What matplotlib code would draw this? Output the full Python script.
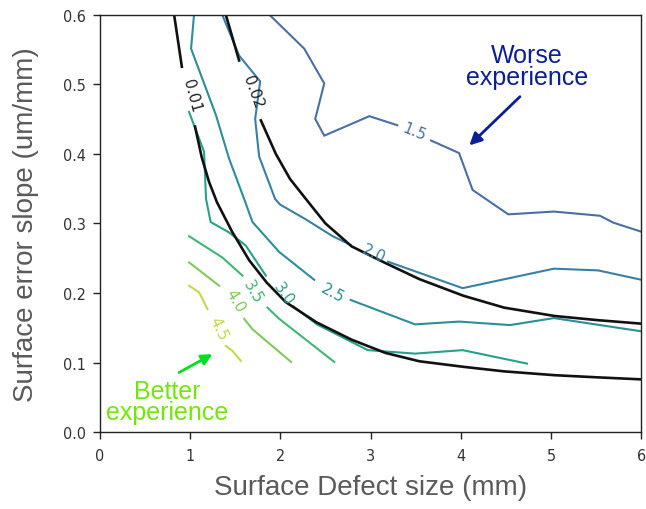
import numpy as np
import matplotlib
matplotlib.use("Agg")
import matplotlib.pyplot as plt

nan = np.nan

# ---- data ----
levels = ["1.5", "2.0", "2.5", "3.0", "3.5", "4.0", "4.5"]

x_15 = [1.877, 2.265, 2.487, 2.387, 2.487, 2.986, 3.296, nan, 3.67, 3.98, 4.13, 4.525, 5.03, 5.54, 5.69, 6.0]
y_15 = [0.600, 0.551, 0.501, 0.450, 0.426, 0.454, 0.441, nan, 0.419, 0.401, 0.348, 0.313, 0.317, 0.311, 0.301, 0.288]

x_20 = [1.356, 1.544, 1.777, 1.722, 1.766, 1.943, 1.999, 2.28, 2.575, 2.78, nan, 3.193, 4.019, 5.03, 5.52, 6.0]
y_20 = [0.600, 0.541, 0.504, 0.450, 0.396, 0.335, 0.327, 0.306, 0.282, 0.269, nan, 0.245, 0.207, 0.235, 0.2325, 0.219]

x_25 = [1.045, 1.012, 1.289, 1.433, 1.60, 1.692, 1.988, 2.376, nan, 2.78, 3.493, 3.98, 4.544, 5.03, 6.0]
y_25 = [0.600, 0.551, 0.455, 0.393, 0.335, 0.302, 0.259, 0.219, nan, 0.190, 0.155, 0.159, 0.154, 0.164, 0.145]

x_30 = [0.99, 1.156, 1.178, 1.229, 1.433, 1.619, 1.840, nan, 2.143, 2.406, 2.968, 3.493, 4.019, 4.732]
y_30 = [0.460, 0.403, 0.335, 0.302, 0.287, 0.268, 0.225, nan, 0.181, 0.155, 0.118, 0.113, 0.118, 0.0987]

x_35 = [0.99, 1.359, 1.581, nan, 1.858, 1.988, 2.598]
y_35 = [0.2816, 0.251, 0.225, nan, 0.179, 0.163, 0.101]

x_40 = [0.99, 1.323, nan, 1.60, 1.692, 2.12]
y_40 = [0.244, 0.2105, nan, 0.163, 0.148, 0.101]

x_45 = [0.99, 1.101, 1.193, nan, 1.397, 1.47, 1.563]
y_45 = [0.2105, 0.201, 0.177, nan, 0.124, 0.117, 0.1026]

# black reference curves
x_001 = [0.824, 0.91, nan, 1.056, 1.13, 1.21, 1.30, 1.467, 1.656, 1.85, 2.06, 2.40, 2.79, 3.165, 3.54, 4.03, 4.48, 5.04, 5.5, 6.0]
y_001 = [0.600, 0.525, nan, 0.439, 0.395, 0.360, 0.330, 0.288, 0.247, 0.215, 0.187, 0.158, 0.133, 0.114, 0.102, 0.094, 0.0875, 0.082, 0.079, 0.076]

x_002 = [1.396, 1.544, nan, 1.785, 1.95, 2.107, 2.284, 2.50, 2.79, 3.165, 3.54, 4.03, 4.48, 5.04, 5.52, 6.0]
y_002 = [0.600, 0.534, nan, 0.448, 0.400, 0.364, 0.335, 0.300, 0.267, 0.243, 0.220, 0.196, 0.179, 0.167, 0.161, 0.156]

xticks = [0, 1, 2, 3, 4, 5, 6]
yticks = [0.0, 0.1, 0.2, 0.3, 0.4, 0.5, 0.6]

# ---- styling ----
lvl_x = [x_15, x_20, x_25, x_30, x_35, x_40, x_45]
lvl_y = [y_15, y_20, y_25, y_30, y_35, y_40, y_45]
lvl_colors = ["#4a6fa3", "#3a7fa6", "#2a8f98", "#26a28a", "#3fb873", "#7ecb58", "#c4d94a"]
lvl_label_pos = [(3.485, 0.432, -22), (3.034, 0.258, -25), (2.583, 0.201, -28),
                 (2.04, 0.1996, -55), (1.70, 0.203, -60), (1.50, 0.190, -60), (1.312, 0.150, -65)]

fig = plt.figure(figsize=(6.46, 5.10), dpi=100)
ax = fig.add_axes([0.1543, 1 - 433.3 / 510, 541.8 / 646, (433.3 - 15.5) / 510])

for xs, ys, c, lab, (lx, ly, rot) in zip(lvl_x, lvl_y, lvl_colors, levels, lvl_label_pos):
    ax.plot(xs, ys, color=c, lw=1.5, solid_joinstyle="miter")
    ax.text(lx, ly, lab, color=c, fontsize=11, rotation=rot, ha="center", va="center",
            rotation_mode="anchor")

ax.plot(x_001, y_001, color="#111111", lw=1.9, solid_joinstyle="round")
ax.plot(x_002, y_002, color="#111111", lw=1.9, solid_joinstyle="round")
ax.text(1.024, 0.484, "0.01", color="#222222", fontsize=11, rotation=-75, ha="center", va="center",
        rotation_mode="anchor")
ax.text(1.70, 0.489, "0.02", color="#222222", fontsize=11, rotation=-70, ha="center", va="center",
        rotation_mode="anchor")

ax.set_xlim(0, 6)
ax.set_ylim(0, 0.6)
ax.set_xticks(xticks)
ax.set_yticks(yticks)
ax.set_xticklabels([str(t) for t in xticks])
ax.set_yticklabels([f"{t:.1f}" for t in yticks])
ax.tick_params(axis="both", labelsize=11.5, labelcolor="#333333", color="#222222", length=5, width=1)
ax.tick_params(axis="x", pad=6)
ax.tick_params(axis="y", pad=5)
for lab in ax.get_xticklabels() + ax.get_yticklabels():
    lab.set_fontstretch("condensed")
for s in ax.spines.values():
    s.set_color("#222222")
    s.set_linewidth(1.0)

ax.set_xlabel("Surface Defect size (mm)", family="Liberation Sans", fontsize=20, color="#5a5a5a", labelpad=8)
ax.set_ylabel("Surface error slope (um/mm)", family="Liberation Sans", fontsize=20, color="#5a5a5a", labelpad=17)

# annotations
navy = "#0b1e95"
ax.text(4.73, 0.5324, "Worse", family="Liberation Sans", fontsize=18, color=navy, ha="center", va="baseline")
ax.text(4.73, 0.5007, "experience", family="Liberation Sans", fontsize=18, color=navy, ha="center", va="baseline")
ax.annotate("", xy=(4.094, 0.412), xytext=(4.654, 0.482),
            arrowprops=dict(arrowstyle="-|>", color=navy, lw=2, mutation_scale=18, shrinkA=0, shrinkB=0))

lime = "#72e80a"
ax.text(0.752, 0.0499, "Better", family="Liberation Sans", fontsize=18, color=lime, ha="center", va="baseline")
ax.text(0.752, 0.0187, "experience", family="Liberation Sans", fontsize=18, color=lime, ha="center", va="baseline")
ax.annotate("", xy=(1.249, 0.1122), xytext=(0.879, 0.0859),
            arrowprops=dict(arrowstyle="-|>", color="#00e020", lw=2, mutation_scale=16, shrinkA=0, shrinkB=0))

fig.savefig("out.png", dpi=100)
